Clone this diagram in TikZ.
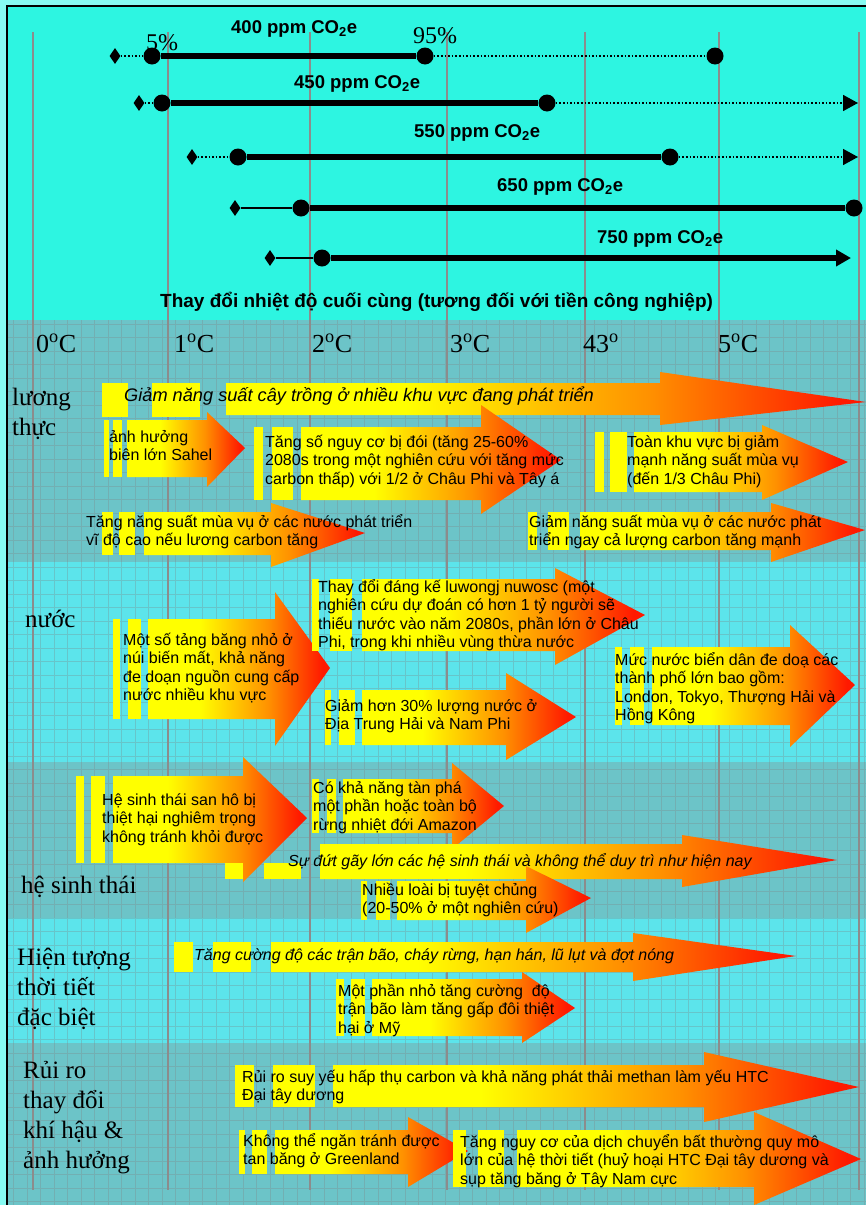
\documentclass[tikz,border=0pt]{standalone}
\usepackage{fontspec}
\setmainfont{Liberation Serif}
\setsansfont{Liberation Sans}
\usetikzlibrary{shapes.geometric}
\usetikzlibrary{arrows.meta}
\definecolor{topcyan}{RGB}{45,245,225}
\definecolor{bandgray}{RGB}{108,196,200}
\definecolor{bandlight}{RGB}{92,228,235}
\definecolor{edgecyan}{RGB}{135,250,242}
\definecolor{rule}{RGB}{140,140,140}
\definecolor{heatY}{RGB}{255,255,0}
\definecolor{heatO}{RGB}{255,145,0}
\definecolor{heatR}{RGB}{255,25,0}
\pgfdeclarehorizontalshading{heat}{100bp}{color(0bp)=(heatY); color(25bp)=(heatY); color(39bp)=(heatY); color(58bp)=(heatO); color(73bp)=(heatR); color(100bp)=(heatR)}
\newcommand{\bodyfont}{\sffamily\fontsize{16}{18.5}\selectfont}
\newcommand{\band}[3]{\fill[#3] (7,#1) rectangle (866,#2);}
\newcommand{\stripe}[4]{\fill[heatY] (#1,#3) rectangle (#2,#4);}
\newcommand{\heatarrow}[8]{\shade[shading=heat] (#1,#3) -- (#2,#3) -- (#2,#5) -- (#7,#8) -- (#2,#6) -- (#2,#4) -- (#1,#4) -- cycle;}
\newcommand{\templine}[1]{\draw[rule, line width=1.5pt] (#1,32) -- (#1,1190);}

\begin{document}
\begin{tikzpicture}[x=1pt, y=-1pt,
    bar/.style={line width=6pt},
    dotbar/.style={line width=1.6pt, dotted},
    thinbar/.style={line width=1.6pt},
    dot/.style={circle, fill=black, minimum size=17pt, inner sep=0pt},
    gem/.style={diamond, fill=black, minimum width=11pt, minimum height=16pt, inner sep=0pt},
    tip/.style={-{Triangle[length=15pt, width=16pt]}},
    ppm/.style={font=\sffamily\bfseries\fontsize{18.5}{20}\selectfont, anchor=base west, inner sep=0pt},
    deg/.style={font=\fontsize{26}{30}\selectfont, anchor=base west, inner sep=0pt},
    side/.style={font=\fontsize{25}{30}\selectfont, align=left, anchor=base west, inner sep=0pt},
    note/.style={font=\bodyfont, align=left, anchor=base west, inner sep=0pt},
    slant/.style={font=\sffamily\itshape\fontsize{16}{18.5}\selectfont, anchor=base west, inner sep=0pt},
    gridline/.style={draw=gray, line width=0.5pt, opacity=0.3}]
\useasboundingbox (0,0) rectangle (866,1205);
% background
\fill[edgecyan] (0,0) rectangle (866,1205);
\band{6}{320}{topcyan}
\band{320}{562}{bandgray}
\band{562}{762}{bandlight}
\band{762}{918}{bandgray}
\band{918}{1043}{bandlight}
\band{1043}{1205}{bandgray}
\draw[gridline] (7,320) grid[step=13.5pt] (866,1205);
\draw[line width=1.5pt] (7,1205) -- (7,6) -- (866,6);
\templine{33}
\templine{168}
\templine{310}
\templine{447}
\templine{585}
\templine{719}
\templine{859}

% concentration bars
\node[gem] (d400) at (115,56) {};
\node[dot] (lo400) at (152,56) {};
\node[dot] (hi400) at (425,56) {};
\node[dot] (up400) at (715,56) {};
\draw[dotbar] (d400) -- (lo400);
\draw[bar] (lo400) -- (hi400);
\draw[dotbar] (hi400) -- (up400);
\node[ppm] (lab400) at (231,33) {400 ppm CO\textsubscript{2}e};
\node[font=\fontsize{24}{28}\selectfont, anchor=base west, inner sep=0pt] (pct5) at (146,50) {5\%};
\node[font=\fontsize{24}{28}\selectfont, anchor=base west, inner sep=0pt] (pct95) at (413,43) {95\%};

\node[gem] (d450) at (139,103) {};
\node[dot] (lo450) at (162,103) {};
\node[dot] (hi450) at (547,103) {};
\coordinate (up450) at (858,103);
\draw[dotbar] (d450) -- (lo450);
\draw[bar] (lo450) -- (hi450);
\draw[dotbar, tip] (hi450) -- (up450);
\node[ppm] (lab450) at (294,88) {450 ppm CO\textsubscript{2}e};

\node[gem] (d550) at (192,157) {};
\node[dot] (lo550) at (238,157) {};
\node[dot] (hi550) at (670,157) {};
\coordinate (up550) at (858,157);
\draw[dotbar] (d550) -- (lo550);
\draw[bar] (lo550) -- (hi550);
\draw[dotbar, tip] (hi550) -- (up550);
\node[ppm] (lab550) at (414,137) {550 ppm CO\textsubscript{2}e};

\node[gem] (d650) at (235,208) {};
\node[dot] (lo650) at (301,208) {};
\node[dot] (hi650) at (854,208) {};
\draw[thinbar] (d650) -- (lo650);
\draw[bar] (lo650) -- (hi650);
\node[ppm] (lab650) at (497,191) {650 ppm CO\textsubscript{2}e};

\node[gem] (d750) at (270,258) {};
\node[dot] (lo750) at (322,258) {};
\coordinate (up750) at (851,258);
\draw[thinbar] (d750) -- (lo750);
\draw[bar, tip] (lo750) -- (up750);
\node[ppm] (lab750) at (597,243) {750 ppm CO\textsubscript{2}e};

\node[font=\sffamily\bfseries\fontsize{19}{22}\selectfont, anchor=base west, inner sep=0pt] (heading) at (160,307) {Thay đổi nhiệt độ cuối cùng (tương đối với tiền công nghiệp)};

% temperature axis
\node[deg] (t0) at (36,352) {0\textsuperscript{o}C};
\node[deg] (t1) at (174,352) {1\textsuperscript{o}C};
\node[deg] (t2) at (312,352) {2\textsuperscript{o}C};
\node[deg] (t3) at (450,352) {3\textsuperscript{o}C};
\node[deg] (t4) at (583,352) {43\textsuperscript{o}};
\node[deg] (t5) at (718,352) {5\textsuperscript{o}C};

% food
\heatarrow{226}{660}{383}{415}{372}{425}{866}{402}
\stripe{102}{128}{383}{417}
\stripe{152}{200}{383}{417}
\heatarrow{127}{207}{420}{477}{412}{487}{245}{448}
\stripe{104}{109}{420}{477}
\stripe{113}{122}{420}{477}
\heatarrow{301}{481}{427}{500}{405}{514}{561}{460}
\stripe{254}{263}{427}{500}
\stripe{272}{293}{427}{500}
\heatarrow{634}{762}{432}{492}{425}{500}{848}{462}
\stripe{595}{604}{432}{492}
\stripe{610}{627}{432}{492}
\heatarrow{144}{271}{512}{555}{503}{567}{365}{533}
\stripe{102}{113}{512}{555}
\stripe{119}{135}{512}{555}
\heatarrow{580}{771}{512}{550}{503}{562}{865}{530}
\stripe{528}{537}{512}{550}
\stripe{548}{569}{512}{550}
\node[side] (food) at (12,435) {lương\\thực};
\node[slant, font=\sffamily\itshape\fontsize{18.2}{20}\selectfont] (yieldfall) at (124,401) {Giảm năng suất cây trồng ở nhiều khu vực đang phát triển};
\node[note] (sahel) at (109,460.5) {ảnh hưởng\\biên lớn Sahel};
\node[note] (hunger) at (265,484) {Tăng số nguy cơ bị đói (tăng 25-60\%\\2080s trong một nghiên cứu với tăng mức\\carbon thấp) với 1/2 ở Châu Phi và Tây á};
\node[note] (africa) at (627,484) {Toàn khu vực bị giảm\\mạnh năng suất mùa vụ\\(đến 1/3 Châu Phi)};
\node[note] (northgain) at (86,545.5) {Tăng năng suất mùa vụ ở các nước phát triển\\vĩ độ cao nếu lương carbon tăng};
\node[note] (southloss) at (529,545.5) {Giảm năng suất mùa vụ ở các nước phát\\triển ngay cả lượng carbon tăng mạnh};

% water
\heatarrow{148}{275}{619}{719}{592}{746}{330}{668}
\stripe{113}{120}{619}{719}
\stripe{128}{141}{619}{719}
\heatarrow{362}{555}{579}{651}{568}{665}{645}{615}
\stripe{312}{319}{579}{651}
\stripe{330}{352}{579}{651}
\heatarrow{362}{506}{690}{745}{673}{760}{576}{717}
\stripe{325}{331}{690}{745}
\stripe{339}{355}{690}{745}
\heatarrow{652}{790}{647}{725}{625}{747}{855}{685}
\stripe{615}{622}{647}{725}
\stripe{630}{644}{647}{725}
\node[side] (water) at (25,627) {nước};
\node[note] (glaciers) at (123,700.5) {Một số tảng băng nhỏ ở\\núi biến mất, khả năng\\đe doạn nguồn cung cấp\\nước nhiều khu vực};
\node[note] (waterflow) at (318,647.5) {Thay đổi đáng kế luwongj nuwosc (một\\nghiên cứu dự đoán có hơn 1 tỷ người sẽ\\thiếu nước vào năm 2080s, phần lớn ở Châu\\Phi, trong khi nhiều vùng thừa nước};
\node[note] (mediterr) at (325,729.5) {Giảm hơn 30\% lượng nước ở\\Địa Trung Hải và Nam Phi};
\node[note] (sealevel) at (615,720.5) {Mức nước biển dân đe doạ các\\thành phố lớn bao gồm:\\London, Tokyo, Thượng Hải và\\Hồng Kông};

% ecosystems
\heatarrow{113}{243}{776}{863}{757}{882}{307}{818}
\stripe{76}{84}{776}{863}
\stripe{91}{105}{776}{863}
\heatarrow{343}{452}{779}{833}{763}{849}{504}{806}
\stripe{312}{319}{779}{833}
\stripe{327}{336}{779}{833}
\heatarrow{320}{682}{844}{879}{835}{887}{837}{860}
\stripe{225}{243}{863}{879}
\stripe{264}{301}{863}{879}
\heatarrow{397}{526}{881}{920}{866}{933}{591}{898}
\stripe{361}{367}{881}{920}
\stripe{376}{390}{881}{920}
\node[side] (eco) at (21,893) {hệ sinh thái};
\node[note] (coral) at (102,842) {Hệ sinh thái san hô bị\\thiệt hại nghiêm trọng\\không tránh khỏi được};
\node[note] (amazon) at (313,830) {Có khả năng tàn phá\\một phần hoặc toàn bộ\\rừng nhiệt đới Amazon};
\node[slant] (disrupt) at (288,866) {Sự đứt gãy lớn các hệ sinh thái và không thể duy trì như hiện nay};
\node[note] (extinct) at (362,913.5) {Nhiều loài bị tuyệt chủng\\(20-50\% ở một nghiên cứu)};

% extreme weather
\heatarrow{271}{633}{942}{972}{933}{981}{796}{956}
\stripe{174}{193}{942}{972}
\stripe{213}{251}{942}{972}
\heatarrow{372}{522}{979}{1036}{972}{1043}{575}{1008}
\stripe{336}{344}{979}{1036}
\stripe{351}{365}{979}{1036}
\node[side] (weather) at (17,1025) {Hiện tượng\\thời tiết\\đặc biệt};
\node[slant] (storms) at (194,960) {Tăng cường độ các trận bão, cháy rừng, hạn hán, lũ lụt và đợt nóng};
\node[note] (hurricane) at (338,1033) {Một phần nhỏ tăng cường \ độ\\trận bão làm tăng gấp đôi thiệt\\hại ở Mỹ};

% abrupt change risks
\heatarrow{333}{704}{1065}{1107}{1052}{1122}{859}{1087}
\stripe{235}{254}{1065}{1107}
\stripe{273}{315}{1065}{1107}
\heatarrow{275}{408}{1130}{1174}{1117}{1187}{468}{1151}
\stripe{239}{245}{1130}{1174}
\stripe{252}{267}{1130}{1174}
\heatarrow{517}{754}{1130}{1187}{1112}{1205}{861}{1159}
\stripe{453}{466}{1130}{1187}
\stripe{478}{504}{1130}{1187}
\node[side] (risk) at (23,1168) {Rủi ro\\thay đổi\\khí hậu \&\\ảnh hưởng};
\node[note] (carbonrisk) at (242,1100.5) {Rủi ro suy yếu hấp thụ carbon và khả năng phát thải methan làm yếu HTC\\Đại tây dương};
\node[note] (greenland) at (243,1164.5) {Không thể ngăn tránh được\\tan băng ở Greenland};
\node[note] (abrupt) at (460,1184) {Tăng nguy cơ của dịch chuyển bất thường quy mô\\lớn của hệ thời tiết (huỷ hoại HTC Đại tây dương và\\sụp tăng băng ở Tây Nam cực};
\end{tikzpicture}
\end{document}
